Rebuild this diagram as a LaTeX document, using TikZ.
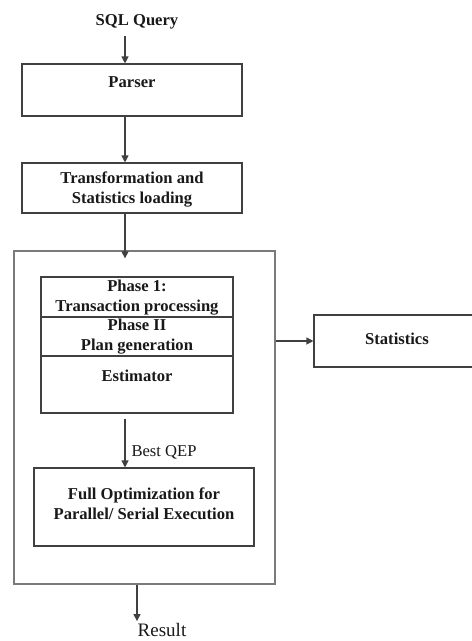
\documentclass[tikz,border=0pt]{standalone}
\usepackage{fontspec}
\setmainfont{Liberation Serif}
\usetikzlibrary{arrows.meta}
\begin{document}
\begin{tikzpicture}[x=1pt,y=-1pt,
  line/.style={draw=black!75, line width=1.1pt},
  box/.style={line, rectangle, inner sep=0pt},
  outerbox/.style={draw=black!52, line width=1.3pt, rectangle, inner sep=0pt},
  lbl/.style={font=\bfseries\fontsize{16.6}{20}\selectfont, align=center, inner sep=0pt, text=black!90},
  plain/.style={font=\fontsize{16.6}{20}\selectfont, inner sep=0pt, text=black!90},
  arr/.style={line, -{Triangle[length=7pt,width=7pt]}}]
\useasboundingbox (0,0) rectangle (472,641);
\fill[white] (0,0) rectangle (472,641);

% vertical spines carrying the main flow
\coordinate (spine) at (125,0);
\coordinate (rx) at (137,0);

% input
\node[lbl] (sql) at (137,22) {SQL Query};

% parser
\node[box, minimum width=220pt, minimum height=52pt] (parser) at (132,90) {};
\node[lbl] (parsert) at (132,82) {Parser};

% transformation
\node[box, minimum width=220pt, minimum height=50pt] (trans) at (132,188) {};
\node[lbl] (transt) at (132,189) {Transformation and\\Statistics loading};

% optimizer frame
\node[outerbox, minimum width=261pt, minimum height=333pt] (outer) at (144.5,417.5) {};

% phases stack
\node[box, minimum width=192pt, minimum height=40pt] (ph1) at (137,297) {};
\node[lbl] (ph1t) at (137,297.5) {Phase 1:\\Transaction processing};
\node[box, minimum width=192pt, minimum height=39pt] (ph2) at (137,336.5) {};
\node[lbl] (ph2t) at (137,337) {Phase II\\Plan generation};
\node[box, minimum width=192pt, minimum height=57pt] (est) at (137,384.5) {};
\node[lbl] (estt) at (137,376) {Estimator};

% full optimization
\node[box, minimum width=220pt, minimum height=78pt] (full) at (144,507) {};
\node[lbl] (fullt) at (144,503.5) {Full Optimization for\\Parallel/ Serial Execution};

% statistics
\node[box, minimum width=166pt, minimum height=52pt] (stats) at (397,341) {};
\node[lbl] (statst) at (397,339) {Statistics};

% output
\node[font=\fontsize{19}{22}\selectfont, inner sep=0pt, text=black!90] (result) at (162,630) {Result};

% connectors
\draw[arr] (sql.south -| spine) ++(0,7) coordinate (s0) (s0) -- (parser.north -| spine);
\draw[arr] (parser.south -| spine) -- (trans.north -| spine);
\draw[arr] (trans.south -| spine) -- ([yshift=-8pt]outer.north -| spine);
\draw[arr] ([yshift=-5pt]est.south -| spine) -- (full.north -| spine)
  node[plain, pos=0.7, anchor=west, xshift=6pt] (qep) {Best QEP};
\draw[arr] (outer.east |- stats.west) -- (stats.west);
\draw[arr, shorten >=2pt] (outer.south -| rx) -- (result.north -| rx);
\end{tikzpicture}
\end{document}
